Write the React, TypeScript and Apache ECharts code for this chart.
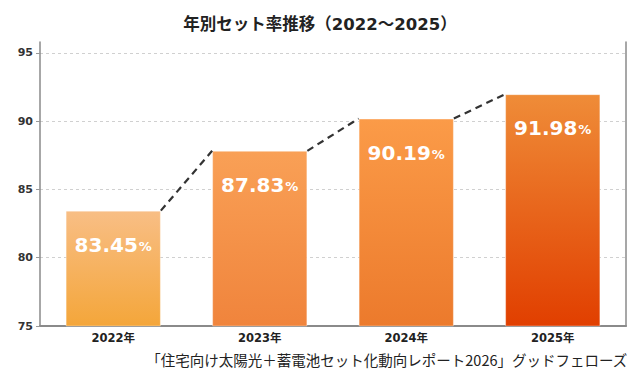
import React, { useEffect, useRef } from "react";
import * as echarts from "echarts";

const categories = ["2022年", "2023年", "2024年", "2025年"];
const values = [83.45, 87.83, 90.19, 91.98];
const yTicks = [75, 80, 85, 90, 95];
const topColors = ["#F8BE85", "#F9A056", "#FB9B48", "#EF8C38"];
const bottomColors = ["#F4A63A", "#F0843C", "#EC7A2C", "#E13F00"];
const titleText = "年別セット率推移（2022〜2025）";
const sourceText = "「住宅向け太陽光＋蓄電池セット化動向レポート2026」グッドフェローズ";

const BAR_RATIO = 0.65;
const FONT = "'Noto Sans CJK JP', 'Noto Sans', sans-serif";
const WIDE = "'DejaVu Sans', 'Noto Sans CJK JP', sans-serif";

export default function App() {
  const ref = useRef<HTMLDivElement>(null);
  useEffect(() => {
    const chart = echarts.init(ref.current!, null, { renderer: "svg" });
    const barData = values.map((v, i) => ({
      value: v,
      itemStyle: {
        color: new echarts.graphic.LinearGradient(0, 0, 0, 1, [
          { offset: 0, color: topColors[i] },
          { offset: 1, color: bottomColors[i] },
        ]),
      },
    }));
    const links = values.slice(0, -1).map((v, i) => [i, v, values[i + 1]]);
    const axisCommon = {
      type: "value" as const,
      min: yTicks[0],
      max: 95.8,
      interval: 5,
    };
    chart.setOption({
      animation: false,
      textStyle: { fontFamily: FONT },
      title: {
        text: titleText,
        left: "center",
        top: 11,
        textStyle: { fontSize: 16.5, fontWeight: "bold", color: "#222", fontFamily: WIDE },
      },
      grid: { left: 40, right: 14, top: 42, bottom: 54 },
      xAxis: {
        type: "category",
        data: categories,
        axisLine: { lineStyle: { color: "#8a8a8a", width: 2 } },
        axisTick: { show: false },
        axisLabel: { color: "#222", fontSize: 11.5, fontWeight: "bold", margin: 6, fontFamily: WIDE },
      },
      yAxis: [
        {
          ...axisCommon,
          axisLine: { show: true, lineStyle: { color: "#8a8a8a", width: 1.5 } },
          axisTick: { show: true, length: 4, lineStyle: { color: "#999" } },
          axisLabel: {
            color: "#333",
            fontSize: 11,
            fontWeight: "bold",
            margin: 7,
            showMaxLabel: false,
            fontFamily: WIDE,
          },
          splitLine: {
            show: true,
            showMaxLine: false,
            lineStyle: { color: "#d0d0d0", type: [3, 3], width: 1 },
          },
        },
        {
          ...axisCommon,
          position: "right",
          axisLine: { show: true, lineStyle: { color: "#8a8a8a", width: 1.5 } },
          axisTick: { show: false },
          axisLabel: { show: false },
          splitLine: { show: false },
        },
      ],
      series: [
        {
          type: "bar",
          data: barData,
          barWidth: BAR_RATIO * 100 + "%",
          itemStyle: { borderColor: "rgba(255,255,255,0.35)", borderWidth: 1 },
          label: {
            show: true,
            position: "insideTop",
            distance: 24,
            formatter: (p: any) => `{n|${p.value.toFixed(2)}}{p|%}`,
            rich: {
              n: { fontSize: 20, fontWeight: "bold", color: "#fff", fontFamily: WIDE },
              p: { fontSize: 13, fontWeight: "bold", color: "#fff", fontFamily: WIDE, padding: [3, 0, 0, 1] },
            },
          },
          z: 2,
        },
        {
          type: "custom",
          data: links,
          z: 3,
          renderItem: (params: any, api: any) => {
            const i = api.value(0);
            const p1 = api.coord([i, api.value(1)]);
            const p2 = api.coord([i + 1, api.value(2)]);
            const half = (api.size([1, 0])[0] * BAR_RATIO) / 2;
            return {
              type: "line",
              shape: { x1: p1[0] + half, y1: p1[1], x2: p2[0] - half, y2: p2[1] },
              style: { stroke: "#333", lineWidth: 2.2, lineDash: [7, 5] },
            };
          },
        },
      ],
      graphic: [
        {
          type: "text",
          right: 12,
          top: 352,
          style: { text: sourceText, fontSize: 14.5, fill: "#222", fontFamily: FONT },
        },
      ],
    });
    return () => chart.dispose();
  }, []);
  return (
    <div
      ref={ref}
      style={{ width: 640, height: 380, position: "absolute", left: 0, top: 0 }}
    />
  );
}
